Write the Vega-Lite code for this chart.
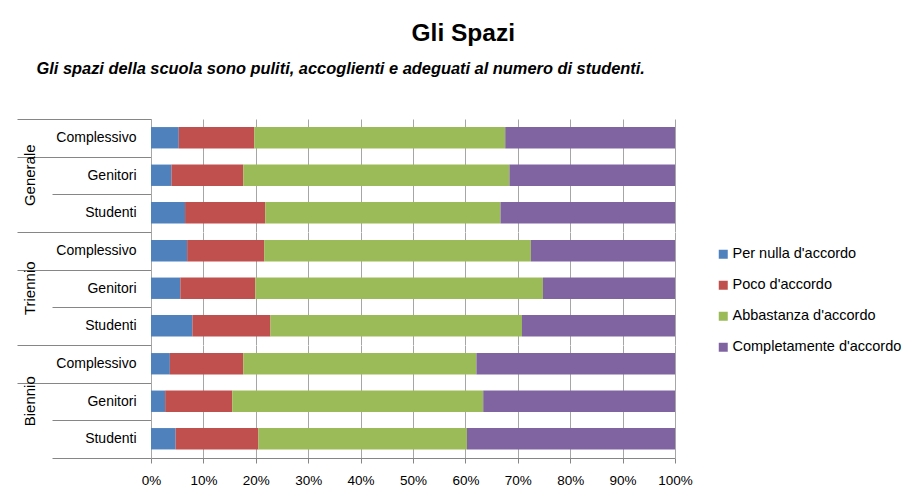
{
  "$schema": "https://vega.github.io/schema/vega-lite/v6.json",
  "background": "white",
  "padding": {"left": 16, "top": 21, "right": 5, "bottom": 5},
  "title": {"text": "Gli Spazi", "fontSize": 24.5, "font": "Liberation Sans", "fontWeight": "bold", "color": "black", "anchor": "middle", "offset": 14, "dx": 4},
  "config": {
    "view": {"stroke": null},
    "font": "Liberation Sans"
  },
  "vconcat": [
    {
      "title": {"text": "Gli spazi della scuola sono puliti, accoglienti e adeguati al numero di studenti.", "fontSize": 16.4, "font": "Liberation Sans", "fontWeight": "bold", "fontStyle": "italic", "color": "black", "anchor": "start", "frame": "bounds", "offset": 35, "dx": 20},
      "data": {
        "values": [
          {"group": "Generale", "sub": "Complessivo", "resp": "Per nulla d'accordo", "level": 1, "value": 5.3},
          {"group": "Generale", "sub": "Complessivo", "resp": "Poco d'accordo", "level": 2, "value": 14.4},
          {"group": "Generale", "sub": "Complessivo", "resp": "Abbastanza d'accordo", "level": 3, "value": 47.9},
          {"group": "Generale", "sub": "Complessivo", "resp": "Completamente d'accordo", "level": 4, "value": 32.4},
          {"group": "Generale", "sub": "Genitori", "resp": "Per nulla d'accordo", "level": 1, "value": 3.9},
          {"group": "Generale", "sub": "Genitori", "resp": "Poco d'accordo", "level": 2, "value": 13.7},
          {"group": "Generale", "sub": "Genitori", "resp": "Abbastanza d'accordo", "level": 3, "value": 50.8},
          {"group": "Generale", "sub": "Genitori", "resp": "Completamente d'accordo", "level": 4, "value": 31.6},
          {"group": "Generale", "sub": "Studenti", "resp": "Per nulla d'accordo", "level": 1, "value": 6.5},
          {"group": "Generale", "sub": "Studenti", "resp": "Poco d'accordo", "level": 2, "value": 15.3},
          {"group": "Generale", "sub": "Studenti", "resp": "Abbastanza d'accordo", "level": 3, "value": 44.9},
          {"group": "Generale", "sub": "Studenti", "resp": "Completamente d'accordo", "level": 4, "value": 33.3},
          {"group": "Triennio", "sub": "Complessivo", "resp": "Per nulla d'accordo", "level": 1, "value": 6.9},
          {"group": "Triennio", "sub": "Complessivo", "resp": "Poco d'accordo", "level": 2, "value": 14.7},
          {"group": "Triennio", "sub": "Complessivo", "resp": "Abbastanza d'accordo", "level": 3, "value": 50.9},
          {"group": "Triennio", "sub": "Complessivo", "resp": "Completamente d'accordo", "level": 4, "value": 27.5},
          {"group": "Triennio", "sub": "Genitori", "resp": "Per nulla d'accordo", "level": 1, "value": 5.6},
          {"group": "Triennio", "sub": "Genitori", "resp": "Poco d'accordo", "level": 2, "value": 14.3},
          {"group": "Triennio", "sub": "Genitori", "resp": "Abbastanza d'accordo", "level": 3, "value": 54.9},
          {"group": "Triennio", "sub": "Genitori", "resp": "Completamente d'accordo", "level": 4, "value": 25.2},
          {"group": "Triennio", "sub": "Studenti", "resp": "Per nulla d'accordo", "level": 1, "value": 7.9},
          {"group": "Triennio", "sub": "Studenti", "resp": "Poco d'accordo", "level": 2, "value": 14.9},
          {"group": "Triennio", "sub": "Studenti", "resp": "Abbastanza d'accordo", "level": 3, "value": 48.0},
          {"group": "Triennio", "sub": "Studenti", "resp": "Completamente d'accordo", "level": 4, "value": 29.2},
          {"group": "Biennio", "sub": "Complessivo", "resp": "Per nulla d'accordo", "level": 1, "value": 3.6},
          {"group": "Biennio", "sub": "Complessivo", "resp": "Poco d'accordo", "level": 2, "value": 14.0},
          {"group": "Biennio", "sub": "Complessivo", "resp": "Abbastanza d'accordo", "level": 3, "value": 44.5},
          {"group": "Biennio", "sub": "Complessivo", "resp": "Completamente d'accordo", "level": 4, "value": 37.9},
          {"group": "Biennio", "sub": "Genitori", "resp": "Per nulla d'accordo", "level": 1, "value": 2.7},
          {"group": "Biennio", "sub": "Genitori", "resp": "Poco d'accordo", "level": 2, "value": 12.8},
          {"group": "Biennio", "sub": "Genitori", "resp": "Abbastanza d'accordo", "level": 3, "value": 47.9},
          {"group": "Biennio", "sub": "Genitori", "resp": "Completamente d'accordo", "level": 4, "value": 36.6},
          {"group": "Biennio", "sub": "Studenti", "resp": "Per nulla d'accordo", "level": 1, "value": 4.7},
          {"group": "Biennio", "sub": "Studenti", "resp": "Poco d'accordo", "level": 2, "value": 15.8},
          {"group": "Biennio", "sub": "Studenti", "resp": "Abbastanza d'accordo", "level": 3, "value": 39.8},
          {"group": "Biennio", "sub": "Studenti", "resp": "Completamente d'accordo", "level": 4, "value": 39.7}
        ]
      },
      "spacing": 0,
      "facet": {
        "row": {
          "field": "group",
          "type": "nominal",
          "sort": ["Generale", "Triennio", "Biennio"],
          "header": {"title": null, "labelAngle": -90, "labelOrient": "left", "labelAlign": "center", "labelFontSize": 15, "labelFont": "Liberation Sans", "labelColor": "black", "labelPadding": -28}
        }
      },
      "spec": {
        "width": 524,
        "height": 112.5,
        "mark": {"type": "bar", "height": {"band": 0.57}},
        "encoding": {
          "y": {
            "field": "sub",
            "type": "nominal",
            "sort": ["Complessivo", "Genitori", "Studenti"],
            "scale": {"paddingInner": 0, "paddingOuter": 0},
            "axis": {
              "title": null,
              "domainColor": "#868686",
              "tickColor": "#868686",
              "tickBand": "extent",
              "tickExtra": true,
              "tickSize": 134,
              "tickDash": {"condition": {"test": "datum.value === 'Genitori' || datum.value === 'Studenti'", "value": [99, 200]}, "value": []},
              "labelPadding": -119,
              "labelFontSize": 14,
              "labelFont": "Liberation Sans",
              "labelColor": "black"
            }
          },
          "x": {
            "field": "value",
            "type": "quantitative",
            "stack": "normalize",
            "scale": {"domain": [0, 1], "nice": false},
            "axis": {
              "title": null,
              "format": "%",
              "values": [0, 0.1, 0.2, 0.3, 0.4, 0.5, 0.6, 0.7, 0.8, 0.9, 1],
              "labelFlush": false,
              "domainColor": "#868686",
              "tickColor": "#868686",
              "tickSize": 5,
              "gridColor": "#A6A6A6",
              "labelFontSize": 13.5,
              "labelFont": "Liberation Sans",
              "labelColor": "black",
              "labelPadding": 10
            }
          },
          "order": {"field": "level", "type": "quantitative"},
          "color": {
            "field": "resp",
            "type": "nominal",
            "sort": ["Per nulla d'accordo", "Poco d'accordo", "Abbastanza d'accordo", "Completamente d'accordo"],
            "scale": {
              "domain": ["Per nulla d'accordo", "Poco d'accordo", "Abbastanza d'accordo", "Completamente d'accordo"],
              "range": ["#4F81BD", "#C0504D", "#9BBB59", "#8064A2"]
            },
            "legend": {
              "title": null,
              "orient": "none",
              "legendX": 565,
              "legendY": 128,
              "symbolType": "square",
              "symbolSize": 81,
              "symbolStrokeWidth": 0,
              "labelFontSize": 14.5,
              "labelFont": "Liberation Sans",
              "labelColor": "black",
              "labelOffset": 2,
              "labelLimit": 300,
              "rowPadding": 16
            }
          }
        }
      }
    }
  ]
}
